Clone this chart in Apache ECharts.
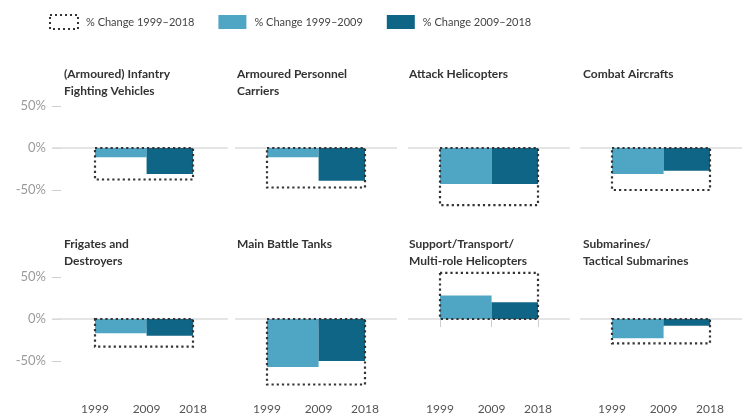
<!DOCTYPE html>
<html>
<head>
<meta charset="utf-8">
<script src="https://cdn.jsdelivr.net/npm/echarts@6/dist/echarts.min.js"></script>
<style>html,body{margin:0;padding:0;background:#fff;}#c{width:742px;height:419px;}</style>
</head>
<body>
<div id="c"></div>
<script>
const titles = [
  '(Armoured) Infantry\nFighting Vehicles',
  'Armoured Personnel\nCarriers',
  'Attack Helicopters',
  'Combat Aircrafts',
  'Frigates and\nDestroyers',
  'Main Battle Tanks',
  'Support/Transport/\nMulti-role Helicopters',
  'Submarines/\nTactical Submarines'
];
const years = [1999, 2009, 2018];
const change1999_2009 = [-11, -11, -43, -31, -17, -57, 28, -23];
const change2009_2018 = [-31, -39, -43, -27, -20, -50, 20, -8];
const change1999_2018 = [-37.5, -47, -68, -50, -33, -78, 55, -29];
const yTickValues = [-50, 0, 50];
const seriesNames = ['% Change 1999\u20132018', '% Change 1999\u20132009', '% Change 2009\u20132018'];

const LIGHT = '#4fa5c4';
const DARK = '#0f6586';
const FONT = 'Lato, "Noto Sans", sans-serif';

const colLeft = [52, 235, 408, 580];
const colWidth = [176, 162, 162, 162];
const pxPerYear = 98 / 19;
const colOffset = [43, 32, 32, 32];
const rowTop = [106, 277];
const rowYMin = [-80, -86];
const yMax = 50;
const pxPerPct = 0.84;
const titleTop = [66, 236];
const titleLeft = [64, 237, 409, 583];

function renderRect(dotted) {
  return function (params, api) {
    const a = api.coord([api.value(0), 0]);
    const b = api.coord([api.value(1), api.value(2)]);
    const x = Math.min(a[0], b[0]), y = Math.min(a[1], b[1]);
    const w = Math.abs(b[0] - a[0]), h = Math.abs(b[1] - a[1]);
    if (dotted) {
      return {
        type: 'rect', z2: 10,
        shape: { x: x, y: y, width: w, height: h },
        style: { fill: 'none', stroke: '#333', lineWidth: 2.2, lineDash: [2.2, 3], lineCap: 'butt' }
      };
    }
    return {
      type: 'rect',
      shape: { x: x, y: y, width: w, height: h },
      style: { fill: api.visual('color') }
    };
  };
}

const grid = [], xAxis = [], yAxis = [], series = [], title = [];
for (let i = 0; i < 8; i++) {
  const row = Math.floor(i / 4), col = i % 4;
  const yMin = rowYMin[row];
  const xMin = years[0] - colOffset[col] / pxPerYear;
  const xMax = xMin + colWidth[col] / pxPerYear;
  grid.push({ left: colLeft[col], top: rowTop[row], width: colWidth[col], height: (yMax - yMin) * pxPerPct });
  xAxis.push({
    type: 'value', gridIndex: i, min: xMin, max: xMax,
    axisLine: { show: false }, splitLine: { show: false },
    axisTick: { show: row === 1, customValues: years, length: 8, lineStyle: { color: '#cfcfcf' } },
    axisLabel: { show: row === 1, customValues: years, formatter: function (v) { return String(v); }, color: '#555', fontSize: 12, margin: 12, fontFamily: FONT }
  });
  yAxis.push({
    type: 'value', gridIndex: i, min: yMin, max: yMax,
    axisLine: { show: false }, splitLine: { show: false },
    axisTick: { show: col === 0, inside: true, length: 9, customValues: yTickValues, lineStyle: { color: '#cfcfcf' } },
    axisLabel: { show: col === 0, customValues: yTickValues, formatter: function (v) { return v + '%'; }, color: '#9a9a9a', fontSize: 13, margin: 6, fontFamily: FONT }
  });
  title.push({
    text: titles[i], left: titleLeft[col], top: titleTop[row], padding: 0,
    textStyle: { fontSize: 12, fontWeight: 'bold', color: '#333', lineHeight: 17, fontFamily: FONT }
  });
  series.push({
    type: 'custom', name: seriesNames[1], xAxisIndex: i, yAxisIndex: i,
    itemStyle: { color: LIGHT }, encode: { x: [0, 1], y: 2 },
    renderItem: renderRect(false),
    data: [[years[0], years[1], change1999_2009[i]]],
    markLine: {
      silent: true, symbol: 'none', label: { show: false }, z: 1,
      lineStyle: { color: '#dcdcdc', width: 1.5, type: 'solid' },
      data: [{ yAxis: 0 }]
    }
  });
  series.push({
    type: 'custom', name: seriesNames[2], xAxisIndex: i, yAxisIndex: i,
    itemStyle: { color: DARK }, encode: { x: [0, 1], y: 2 },
    renderItem: renderRect(false),
    data: [[years[1], years[2], change2009_2018[i]]]
  });
  series.push({
    type: 'custom', name: seriesNames[0], xAxisIndex: i, yAxisIndex: i, z: 5,
    itemStyle: { color: '#333' }, encode: { x: [0, 1], y: 2 },
    renderItem: renderRect(true),
    data: [[years[0], years[2], change1999_2018[i]]]
  });
}

const chart = echarts.init(document.getElementById('c'));
chart.setOption({
  animation: false,
  backgroundColor: '#fff',
  title: title,
  legend: {
    left: 49, top: 14, padding: 0, itemWidth: 28, itemHeight: 14, itemGap: 24,
    selectedMode: false,
    textStyle: { fontSize: 11, color: '#444', fontFamily: FONT, padding: [0, 0, 0, 3] },
    data: [
      { name: seriesNames[0], icon: 'rect', itemStyle: { color: '#fff', borderColor: '#333', borderWidth: 2, borderType: [2, 3] } },
      { name: seriesNames[1], icon: 'rect', itemStyle: { color: LIGHT, borderWidth: 0 } },
      { name: seriesNames[2], icon: 'rect', itemStyle: { color: DARK, borderWidth: 0 } }
    ]
  },
  grid: grid, xAxis: xAxis, yAxis: yAxis, series: series
});
</script>
</body>
</html>
